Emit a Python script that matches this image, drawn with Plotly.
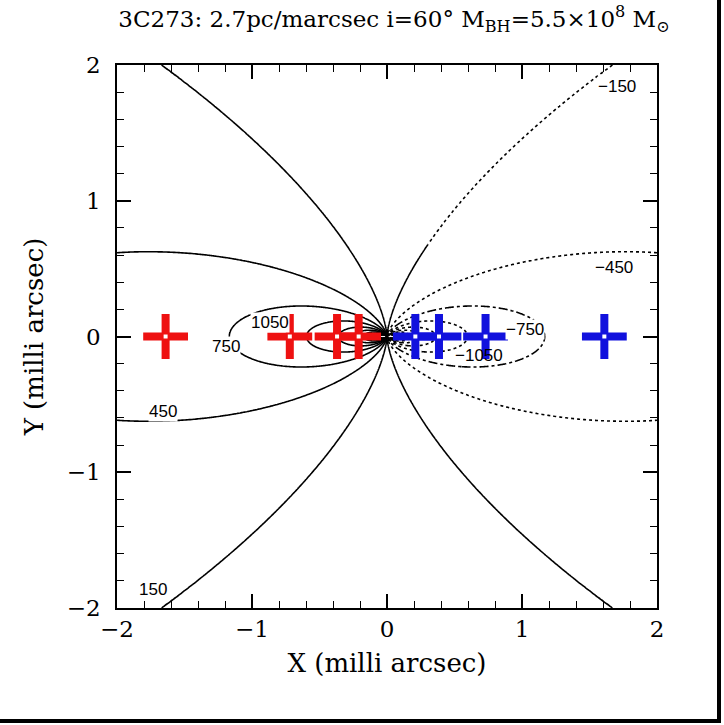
import numpy as np
import plotly.graph_objects as go

# ---- model parameters (from the title) ----
SCALE_PC_PER_MAS = 2.7
INCL_DEG = 60.0
M_BH = 5.5e8
G_PC = 4.301e-3  # pc (km/s)^2 / Msun

# contour levels (km/s)
pos_levels = dict(start=150, end=3450, size=300)
neg_inner_levels = dict(start=-3450, end=-1050, size=300)

# contour label texts and where they sit
label_text = ["1050", "750", "450", "150", "\u2212150", "\u2212450", "\u2212750", "\u22121050"]
label_x = [-0.87, -1.19, -1.66, -1.73, 1.70, 1.68, 1.02, 0.68]
label_y = [0.10, -0.07, -0.55, -1.86, 1.84, 0.51, 0.05, -0.14]
label_bg = ["white", "white", "white", "white", "white", "white", "white", "rgba(0,0,0,0)"]

# components
red_x = [-1.64, -0.72, -0.37, -0.21]
blue_x = [0.21, 0.385, 0.73, 1.61]
red_y = [0, 0, 0, 0]
blue_y = [0, 0, 0, 0]

# ---- velocity field of an inclined Keplerian disk ----
inc = np.radians(INCL_DEG)
K = np.sqrt(G_PC * M_BH / SCALE_PC_PER_MAS) * np.sin(inc)

s = np.linspace(0, 1, 241)
x_half = 2.0 * s ** 2
t = np.linspace(-1, 1, 481)
y_full = 2.0 * np.sign(t) * t ** 2


def vfield(xs, ys):
    X, Y = np.meshgrid(xs, ys)
    r = np.sqrt(X ** 2 + (Y / np.cos(inc)) ** 2)
    with np.errstate(divide="ignore", invalid="ignore"):
        v = -K * X / r ** 1.5
    v[~np.isfinite(v)] = 0.0
    return np.round(v, 1)


x_left = -x_half[::-1]
x_right = x_half

fig = go.Figure()


def add_contour(xs, ys, levels, dash):
    fig.add_trace(go.Contour(
        x=xs, y=ys, z=vfield(xs, ys),
        autocontour=False,
        contours=dict(coloring="lines", showlabels=False, **levels),
        line=dict(color="black", width=1.6, dash=dash),
        showscale=False, hoverinfo="skip",
        colorscale=[[0, "black"], [1, "black"]],
    ))


# positive (left) side, solid
add_contour(x_left, y_full, pos_levels, "solid")

# -150: solid below the break, dotted above
Y_BREAK = 0.68
y_low = np.append(y_full[y_full <= Y_BREAK], Y_BREAK)
y_high = np.insert(y_full[y_full > Y_BREAK], 0, Y_BREAK)
add_contour(x_right, y_low, dict(start=-150, end=-150, size=1), "solid")
add_contour(x_right, y_high, dict(start=-150, end=-150, size=1), "dot")
add_contour(x_right, y_full, dict(start=-450, end=-450, size=1), "dot")
add_contour(x_right, y_full, dict(start=-750, end=-750, size=1), "dashdot")
add_contour(x_right, y_full, neg_inner_levels, "dot")

# crosses
for xs, ys, col in [(red_x, red_y, "#ee1111"), (blue_x, blue_y, "#1111dd")]:
    fig.add_trace(go.Scatter(
        x=xs, y=ys, mode="markers",
        marker=dict(symbol="cross-thin", size=32, color=col,
                    line=dict(color=col, width=8)),
        hoverinfo="skip", showlegend=False,
    ))
    fig.add_trace(go.Scatter(
        x=xs, y=ys, mode="markers",
        marker=dict(symbol="square", size=4, color="white", line=dict(width=0)),
        hoverinfo="skip", showlegend=False,
    ))

for txt, lx, ly, bg in zip(label_text, label_x, label_y, label_bg):
    fig.add_annotation(x=lx, y=ly, text=txt, showarrow=False,
                       font=dict(family="Liberation Sans", size=17, color="black"),
                       bgcolor=bg, borderpad=0)

axis_common = dict(
    range=[-2, 2], showline=True, linecolor="black", linewidth=1.5, mirror="ticks",
    ticks="inside", ticklen=14, tickwidth=1.5, tickcolor="black",
    dtick=1, tick0=0, showgrid=False, zeroline=False,
    minor=dict(ticks="inside", ticklen=7, tickwidth=1.2, tickcolor="black", dtick=0.2, showgrid=False),
    tickfont=dict(family="DejaVu Serif", size=23, color="black"),
)

FIG_W, FIG_H = 724, 725

fig.update_layout(
    width=FIG_W, height=FIG_H,
    margin=dict(l=117, r=FIG_W - 117 - 540, t=65, b=FIG_H - 65 - 543),
    paper_bgcolor="white", plot_bgcolor="white",
    showlegend=False,
    title=dict(
        text="3C273: 2.7pc/marcsec i=60\u00b0 M<sub>BH</sub>=5.5\u00d710<sup>8</sup> M<sub>\u2299</sub>",
        x=394 / FIG_W, xanchor="center", y=1 - 19 / FIG_H, yanchor="middle",
        font=dict(family="DejaVu Serif", size=23, color="black"),
    ),
    xaxis=dict(**axis_common, title=dict(text="X (milli arcsec)", standoff=12,
               font=dict(family="DejaVu Serif", size=26, color="black"))),
    yaxis=dict(**axis_common, title=dict(text="Y (milli arcsec)", standoff=16,
               font=dict(family="DejaVu Serif", size=26, color="black")),
               ticklabelstandoff=10),
)

# image frame at right and bottom (positions in reference pixels)
def px_x(p):
    return (p - 117) / 540.0

def px_y(p):
    return (608 - p) / 543.0

fig.add_shape(type="line", xref="paper", yref="paper",
              x0=px_x(719), x1=px_x(719), y0=px_y(0), y1=px_y(723),
              line=dict(color="black", width=4))
fig.add_shape(type="line", xref="paper", yref="paper",
              x0=px_x(0), x1=px_x(721), y0=px_y(721), y1=px_y(721),
              line=dict(color="black", width=4))

fig.write_html(
    "out.html",
    config={"displayModeBar": False},
    post_script="document.body.style.margin='0';document.body.style.overflow='hidden';",
)
